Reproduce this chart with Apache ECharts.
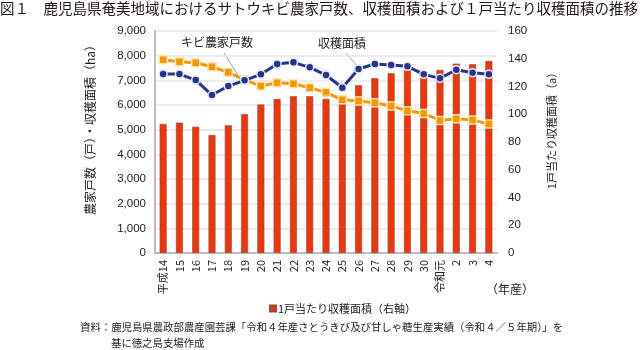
<!DOCTYPE html>
<html>
<head>
<meta charset="utf-8">
<script src="https://cdn.jsdelivr.net/npm/echarts@6/dist/echarts.min.js"></script>
<style>
  html, body { margin: 0; padding: 0; background: #fff; }
  #chart { width: 640px; height: 350px; }
</style>
</head>
<body>
<div id="chart"></div>
<script>
// 年産
var years = ['平成14', '15', '16', '17', '18', '19', '20', '21', '22', '23', '24',
  '25', '26', '27', '28', '29', '30', '令和元', '2', '3', '4'];
// キビ農家戸数（戸）
var farmHouseholds = [7836, 7755, 7714, 7552, 7324, 7020, 6768, 6903, 6862, 6700, 6512,
  6212, 6159, 6090, 5956, 5770, 5660, 5375, 5440, 5388, 5225];
// 収穫面積（ha）
var harvestArea = [7255, 7255, 7012, 6403, 6768, 7000, 7243, 7661, 7730, 7527, 7215,
  6700, 7458, 7661, 7621, 7567, 7243, 7080, 7430, 7308, 7243];
// 1戸当たり収穫面積（a）
var areaPerFarm = [93, 94, 91, 85, 92, 100, 107, 111, 113, 113, 111,
  107.5, 121, 126, 129.5, 132, 127.5, 132, 136.5, 136, 138.5];

var jp = '"Noto Sans CJK JP", "Liberation Sans", sans-serif';
var num = '"Liberation Sans", "Noto Sans CJK JP", sans-serif';

var chart = echarts.init(document.getElementById('chart'));
chart.setOption({
  backgroundColor: '#fff',
  animation: false,
  title: {
    text: '図１　鹿児島県奄美地域におけるサトウキビ農家戸数、収穫面積および１戸当たり収穫面積の推移',
    left: 0,
    top: 1,
    padding: 0,
    textStyle: { fontFamily: jp, fontSize: 14.5, fontWeight: 'normal', color: '#231815' }
  },
  legend: {
    data: ['1戸当たり収穫面積（右軸）'],
    left: 264,
    top: 298,
    icon: 'rect',
    itemWidth: 6,
    itemHeight: 6,
    itemGap: 2,
    textStyle: { fontFamily: jp, fontSize: 11, color: '#222', padding: [0, 0, 0, -3] }
  },
  grid: { left: 155, right: 143, top: 31, bottom: 97 },
  xAxis: {
    type: 'category',
    data: years,
    axisLine: { lineStyle: { color: '#bdbdbd', width: 2 } },
    axisTick: { show: false },
    axisLabel: { rotate: 90, interval: 0, margin: 7, fontFamily: jp, fontSize: 11, color: '#222' }
  },
  yAxis: [
    {
      type: 'value',
      min: 0,
      max: 9000,
      interval: 1000,
      axisLine: { show: true, lineStyle: { color: '#bdbdbd', width: 2 } },
      axisTick: { show: false },
      axisLabel: {
        margin: 9, fontFamily: num, fontSize: 11.5, color: '#222',
        formatter: function (v) { return v.toLocaleString('en-US'); }
      },
      splitLine: { lineStyle: { color: '#e6e6e6', width: 1.5 } }
    },
    {
      type: 'value',
      min: 0,
      max: 160,
      interval: 20,
      axisLine: { show: false },
      axisTick: { show: false },
      axisLabel: { margin: 11, fontFamily: num, fontSize: 11.5, color: '#222' },
      splitLine: { show: false }
    }
  ],
  series: [
    {
      name: '1戸当たり収穫面積（右軸）',
      type: 'bar',
      yAxisIndex: 1,
      data: areaPerFarm,
      barWidth: 7,
      itemStyle: { color: '#E8380D', borderColor: '#9b4a3c', borderWidth: 0.6 },
      z: 2
    },
    {
      name: '収穫面積',
      type: 'line',
      yAxisIndex: 0,
      data: harvestArea,
      symbol: 'circle',
      symbolSize: 8,
      lineStyle: { color: '#27348B', width: 3 },
      itemStyle: { color: '#27348B', borderColor: '#e8ebf7', borderWidth: 1.5 },
      z: 4
    },
    {
      name: 'キビ農家戸数',
      type: 'line',
      yAxisIndex: 0,
      data: farmHouseholds,
      symbol: 'rect',
      symbolSize: 8,
      lineStyle: { color: '#F39800', width: 3 },
      itemStyle: { color: '#F39800', borderColor: '#fde3b5', borderWidth: 1.5 },
      z: 3
    }
  ],
  graphic: [
    // 左軸名
    {
      type: 'text', x: 90, y: 127, rotation: Math.PI / 2,
      style: { text: '農家戸数（戸）・収穫面積（ha）', fontFamily: jp, fontSize: 12, fill: '#222',
        align: 'center', verticalAlign: 'middle' }
    },
    // 右軸名
    {
      type: 'text', x: 552, y: 128, rotation: Math.PI / 2,
      style: { text: '1戸当たり収穫面積（a）', fontFamily: jp, fontSize: 11, fill: '#222',
        align: 'center', verticalAlign: 'middle' }
    },
    // 系列ラベル
    {
      type: 'text', x: 181, y: 42,
      style: { text: 'キビ農家戸数', fontFamily: jp, fontSize: 12, fill: '#222', verticalAlign: 'middle' }
    },
    {
      type: 'line', shape: { x1: 224, y1: 53, x2: 239, y2: 77 },
      style: { stroke: '#888', lineWidth: 0.8 }
    },
    {
      type: 'text', x: 318, y: 43,
      style: { text: '収穫面積', fontFamily: jp, fontSize: 12, fill: '#222', verticalAlign: 'middle' }
    },
    {
      type: 'line', shape: { x1: 346, y1: 53, x2: 358, y2: 67 },
      style: { stroke: '#888', lineWidth: 0.8 }
    },
    {
      type: 'text', x: 486, y: 289,
      style: { text: '（年産）', fontFamily: jp, fontSize: 12, fill: '#222', verticalAlign: 'middle' }
    },
    // 資料
    {
      type: 'text', x: 80, y: 327,
      style: { text: '資料：鹿児島県農政部農産園芸課「令和４年産さとうきび及び甘しゃ糖生産実績（令和４／５年期）」を',
        fontFamily: jp, fontSize: 10.4, fill: '#222', verticalAlign: 'middle' }
    },
    {
      type: 'text', x: 111, y: 343,
      style: { text: '基に徳之島支場作成', fontFamily: jp, fontSize: 10.4, fill: '#222', verticalAlign: 'middle' }
    }
  ]
});
</script>
</body>
</html>
